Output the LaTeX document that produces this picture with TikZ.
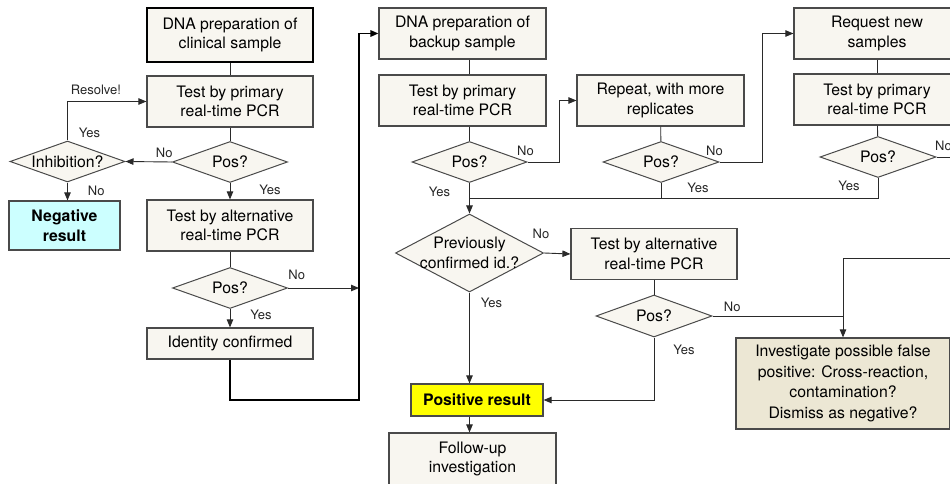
\documentclass[tikz,border=0pt]{standalone}
\usepackage{fontspec}
\setmainfont{TeX Gyre Heros}
\usetikzlibrary{shapes.geometric,arrows.meta,positioning}

\definecolor{boxfill}{HTML}{F8F6F0}
\definecolor{tanfill}{HTML}{ECE7D4}
\definecolor{negfill}{HTML}{CCFFFF}
\definecolor{posfill}{HTML}{FFFF00}
\definecolor{edge}{HTML}{4A4A4A}
\definecolor{wire}{HTML}{2A2A2A}

\newcommand{\boxfont}{\fontsize{15.8}{19.5}\selectfont}
\newcommand{\lblfont}{\fontsize{13}{14}\selectfont}

\tikzset{
  box/.style = {draw=edge, fill=boxfill, line width=1.2pt, minimum width=166pt,
                minimum height=51pt, align=center, inner sep=2pt, font=\boxfont},
  test/.style = {diamond, aspect=2.8, draw=edge, fill=boxfill, line width=1pt, minimum width=115pt,
                 minimum height=41pt, inner sep=0pt, font=\boxfont},
  flow/.style = {draw=wire, line width=0.9pt},
  arr/.style = {flow, -{Triangle[length=8pt,width=6.5pt]}},
  lbl/.style = {font=\lblfont, inner sep=4pt, text=black!85}
}

\begin{document}
\begin{tikzpicture}[x=1pt, y=-1pt]
\clip (0,0) rectangle (950,484);
% clinical sample column
\node[box, draw=black, line width=1.8pt, minimum height=54pt] (a1) at (230,35) {DNA preparation of\\clinical sample};
\node[box] (a2) at (230,101.5) {Test by primary\\real-time PCR};
\node[test] (a3) at (230,162) {Pos?};
\node[test] (inh) at (67.5,161.5) {Inhibition?};
\node[box, fill=negfill, minimum width=111pt, minimum height=49pt, font=\boxfont\bfseries] (neg) at (64.5,225.5) {Negative\\result};
\node[box] (a4) at (230,225.5) {Test by alternative\\real-time PCR};
\node[test] (a5) at (230,288) {Pos?};
\node[box, minimum height=31pt] (a6) at (230,343.5) {Identity confirmed};

% backup sample column
\node[box, minimum width=167pt] (b1) at (462.5,33.5) {DNA preparation of\\backup sample};
\node[box, minimum width=167pt] (b2) at (462.5,100.5) {Test by primary\\real-time PCR};
\node[test] (b3) at (469.5,162) {Pos?};
\node[test, minimum width=148pt, minimum height=78pt,
      label={[align=center, font=\boxfont]center:Previously\\confirmed id.?}] (b4) at (469.5,253) {};
\node[box, fill=posfill, minimum width=132pt, minimum height=32pt, font=\boxfont\bfseries] (pos) at (477,400) {Positive result};
\node[box, minimum width=167pt, minimum height=52pt] (fol) at (472.5,459) {Follow-up\\investigation};

% repeat column
\node[box, minimum width=167pt] (c1) at (660.5,100.5) {Repeat, with more\\replicates};
\node[test, minimum width=116pt] (c2) at (661,162) {Pos?};
\node[box] (c3) at (654,254) {Test by alternative\\real-time PCR};
\node[test, minimum width=116pt, minimum height=42pt] (c4) at (654,316) {Pos?};

% new samples column
\node[box] (d1) at (877,33.5) {Request new\\samples};
\node[box] (d2) at (877,99.5) {Test by primary\\real-time PCR};
\node[test, minimum width=116pt] (d3) at (878,157) {Pos?};
\node[box, fill=tanfill, minimum width=214pt, minimum height=91pt, font=\fontsize{15.8}{20.5}\selectfont] (inv) at (843,383.5)
     {Investigate possible false\\positive: Cross-reaction,\\contamination?\\Dismiss as negative?};

\coordinate (loop) at (359,400);
\coordinate (mrg) at (469.5,198);
\coordinate (offr) at (960,258);
\coordinate (offd) at (960,157);

% connectors
\draw[flow] (a1) -- (a2);
\draw[flow] (a2) -- (a3);
\draw[arr] (a3.west) -- node[lbl, pos=0, above left, xshift=5pt] {No} (inh.east);
\draw[arr] (inh.north) |- node[lbl, pos=0.1, right=7pt] {Yes}
                         node[lbl, pos=0.68, above=2pt] {Resolve!} (a2.west);
\draw[arr] (inh.south) -- node[lbl, pos=0.45, right=16pt] {No} (inh.south |- neg.north);
\draw[arr] (a3) -- node[lbl, pos=0.4, right=25pt] {Yes} (a4);
\draw[flow] (a4) -- (a5);
\draw[arr] (a5.east) -- node[lbl, pos=0, above right, xshift=-4pt, yshift=4pt] {No} (a5.east -| loop);
\draw[arr] (a5) -- node[lbl, pos=0.3, right=16pt] {Yes} (a6);
\draw[arr, draw=black, line width=1.6pt] (a6.south) |- (loop) |- (b1.west);

\draw[flow] (b1.south -| b3) -- (b2.north -| b3);
\draw[flow] (b2.south -| b3) -- (b3.north);
\draw[arr] (b3.east) -- node[lbl, pos=0, above, xshift=-2pt, yshift=2pt] {No} ++(32,0) |- (c1.west);
\draw[arr] (b3) -- node[lbl, pos=0.3, left=15pt] {Yes} (b4);
\draw[flow] (c1) -- (c2);
\draw[arr] (c2.east) -- node[lbl, pos=0, above, xshift=-5pt, yshift=2pt] {No} ++(43,0) |- (d1.west);
\draw[flow] (c2.south) -- node[lbl, pos=0.3, right=22pt] {Yes} (c2.south |- mrg);
\draw[flow] (d1) -- (d2);
\draw[flow] (d2) -- (d3);
\draw[flow] (d3.east) -- node[lbl, pos=0, above, xshift=7pt, yshift=2pt] {No} (offd);
\draw[flow] (d3.south) |- node[lbl, pos=0.2, left=14pt] {Yes} (mrg);

\draw[arr] (b4.east) -- node[lbl, pos=0, above, xshift=-3pt, yshift=10pt] {No} (c3.west);
\draw[arr] (b4.south) -- node[lbl, pos=0.11, right=7pt] {Yes} (b4.south |- pos.north);
\draw[flow] (c3) -- (c4);
\draw[arr] (c4.south) |- node[lbl, pos=0.1, right=15pt] {Yes} (pos.east);
\draw[flow] (c4.east) -- node[lbl, pos=0, above right, xshift=7pt] {No} (c4.east -| inv.north);
\draw[arr] (offr) -| (inv.north);
\draw[arr] (pos.south -| b4.south) -- (fol.north -| b4.south);
\end{tikzpicture}
\end{document}
